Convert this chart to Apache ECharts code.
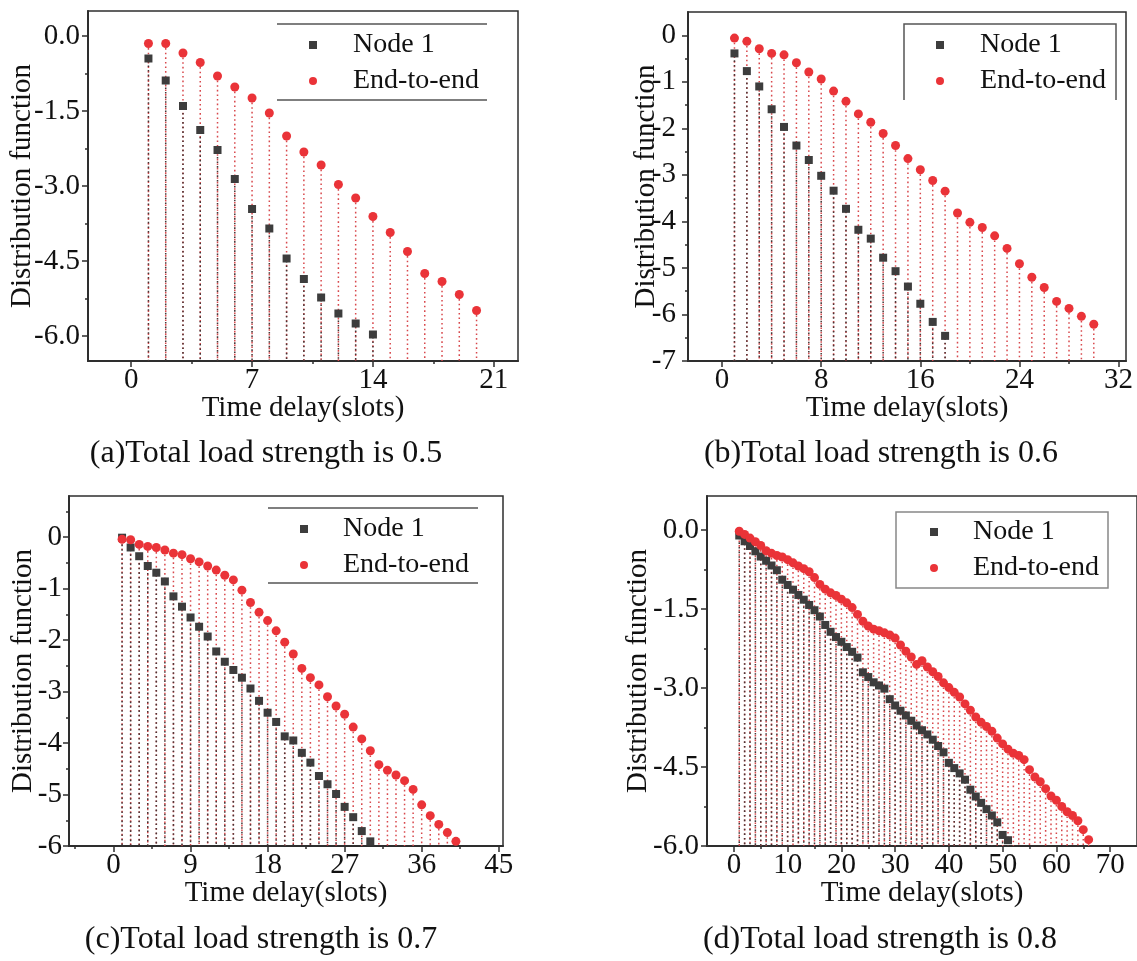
<!DOCTYPE html>
<html>
<head>
<meta charset="utf-8">
<title>Distribution function vs time delay</title>
<script src="https://cdn.jsdelivr.net/npm/echarts@6/dist/echarts.min.js"></script>
<style>
  html, body { margin: 0; padding: 0; background: #fff; }
  #chart { width: 1137px; height: 961px; }
</style>
</head>
<body>
<div id="chart"></div>
<script>
  // slot index of each point (x)
  const SLOTS = [1, 2, 3, 4, 5, 6, 7, 8, 9, 10, 11, 12, 13, 14, 15, 16, 17, 18, 19, 20,
    21, 22, 23, 24, 25, 26, 27, 28, 29, 30, 31, 32, 33, 34, 35, 36, 37, 38, 39, 40,
    41, 42, 43, 44, 45, 46, 47, 48, 49, 50, 51, 52, 53, 54, 55, 56, 57, 58, 59, 60,
    61, 62, 63, 64, 65, 66]

  // (a) load 0.5
  const NODE_A = [-0.45, -0.89, -1.40, -1.88, -2.28, -2.86, -3.46, -3.85, -4.45, -4.86, -5.23, -5.55, -5.75, -5.97]
  const E2E_A = [-0.15, -0.15, -0.34, -0.53, -0.80, -1.02, -1.24, -1.54, -2.00, -2.32, -2.58, -2.97, -3.24, -3.61,
    -3.93, -4.31, -4.75, -4.91, -5.17, -5.49]

  // (b) load 0.6
  const NODE_B = [-0.39, -0.77, -1.10, -1.59, -1.97, -2.37, -2.68, -3.02, -3.34, -3.73, -4.18, -4.37, -4.78, -5.07,
    -5.40, -5.77, -6.16, -6.46]
  const E2E_B = [-0.06, -0.13, -0.29, -0.39, -0.42, -0.59, -0.79, -0.94, -1.20, -1.42, -1.69, -1.87, -2.11, -2.37,
    -2.65, -2.89, -3.12, -3.35, -3.82, -4.02, -4.13, -4.31, -4.58, -4.91, -5.20, -5.42, -5.72, -5.87, -6.04, -6.21]

  // (c) load 0.7
  const NODE_C = [-0.01, -0.20, -0.37, -0.56, -0.69, -0.86, -1.15, -1.35, -1.56, -1.74, -1.93, -2.22, -2.42, -2.58,
    -2.73, -2.94, -3.18, -3.41, -3.59, -3.87, -3.95, -4.19, -4.38, -4.64, -4.80, -4.99, -5.24, -5.44, -5.71, -5.91]
  const E2E_C = [-0.04, -0.05, -0.14, -0.18, -0.20, -0.25, -0.31, -0.34, -0.42, -0.48, -0.56, -0.64, -0.74, -0.83,
    -1.03, -1.27, -1.46, -1.62, -1.82, -2.04, -2.27, -2.55, -2.73, -2.87, -3.10, -3.28, -3.44, -3.69, -3.92, -4.15,
    -4.42, -4.53, -4.62, -4.73, -4.90, -5.20, -5.41, -5.58, -5.74, -5.91]

  // (d) load 0.8
  const NODE_D = [-0.10, -0.21, -0.30, -0.40, -0.50, -0.58, -0.67, -0.76, -0.94, -1.04, -1.13, -1.23, -1.32, -1.42,
    -1.52, -1.64, -1.80, -1.93, -2.03, -2.12, -2.22, -2.31, -2.42, -2.70, -2.79, -2.89, -2.95, -3.01, -3.21, -3.33,
    -3.43, -3.52, -3.62, -3.71, -3.80, -3.88, -3.98, -4.10, -4.22, -4.42, -4.52, -4.62, -4.74, -4.93, -5.06, -5.18,
    -5.30, -5.42, -5.55, -5.79, -5.89]
  const E2E_D = [-0.02, -0.08, -0.15, -0.22, -0.29, -0.39, -0.44, -0.48, -0.51, -0.56, -0.62, -0.68, -0.73, -0.79,
    -0.90, -1.03, -1.12, -1.19, -1.24, -1.31, -1.38, -1.47, -1.60, -1.73, -1.82, -1.88, -1.91, -1.95, -1.99, -2.05,
    -2.18, -2.30, -2.41, -2.55, -2.48, -2.60, -2.69, -2.78, -2.90, -2.99, -3.08, -3.17, -3.30, -3.42, -3.55, -3.65,
    -3.73, -3.82, -3.95, -4.06, -4.16, -4.24, -4.28, -4.36, -4.55, -4.69, -4.78, -4.91, -5.05, -5.13, -5.25, -5.35,
    -5.42, -5.52, -5.69, -5.88]

  // tick values
  const X_TICKS_A = [0, 7, 14, 21]
  const X_MINOR_A = [3.5, 10.5, 17.5]
  const Y_TICKS_A = [0, -1.5, -3, -4.5, -6]
  const Y_MINOR_A = [-0.75, -2.25, -3.75, -5.25]
  const X_TICKS_B = [0, 8, 16, 24, 32]
  const X_MINOR_B = [4, 12, 20, 28]
  const Y_TICKS_B = [0, -1, -2, -3, -4, -5, -6, -7]
  const Y_MINOR_B = [-0.5, -1.5, -2.5, -3.5, -4.5, -5.5, -6.5]
  const X_TICKS_C = [0, 9, 18, 27, 36, 45]
  const X_MINOR_C = [-4.5, 4.5, 13.5, 22.5, 31.5, 40.5]
  const Y_TICKS_C = [0, -1, -2, -3, -4, -5, -6]
  const Y_MINOR_C = [0.5, -0.5, -1.5, -2.5, -3.5, -4.5, -5.5]
  const X_TICKS_D = [0, 10, 20, 30, 40, 50, 60, 70]
  const X_MINOR_D = [5, 15, 25, 35, 45, 55, 65]
  const Y_TICKS_D = [0, -1.5, -3, -4.5, -6]
  const Y_MINOR_D = [-0.75, -2.25, -3.75, -5.25]

  const LEGEND_NAMES = ['Node 1', 'End-to-end']
  const CAPTIONS = [
    '(a)Total load strength is 0.5',
    '(b)Total load strength is 0.6',
    '(c)Total load strength is 0.7',
    '(d)Total load strength is 0.8'
  ]

  const FONT = "'Liberation Serif', 'Times New Roman', serif"
  const TEXT = '#111'
  const AXIS = '#2e2e2e'
  const RED = '#ea3338'
  const DARK = '#3d3d3d'

  const PANELS = [
    {
      grid: {left: 88, top: 11, width: 430, height: 350},
      xRange: [-2.5, 22.4], yRange: [-6.5, 0.5],
      xTicks: X_TICKS_A, xMinor: X_MINOR_A, yTicks: Y_TICKS_A, yMinor: Y_MINOR_A,
      yDigits: 1, yNameGap: 51, yLabelMargin: 8,
      node: NODE_A, e2e: E2E_A,
      legend: {left: 309, top: 31, gap: 8, pad: 31},
      captionX: 266, captionTop: 438
    },
    {
      grid: {left: 688, top: 12, width: 438, height: 349},
      xRange: [-2.75, 32.6], yRange: [-7, 0.5],
      xTicks: X_TICKS_B, xMinor: X_MINOR_B, yTicks: Y_TICKS_B, yMinor: Y_MINOR_B,
      yDigits: 0, yNameGap: 27, yLabelMargin: 12,
      node: NODE_B, e2e: E2E_B,
      legend: {left: 936, top: 31, gap: 8, pad: 31},
      captionX: 881, captionTop: 438
    },
    {
      grid: {left: 69, top: 496, width: 434, height: 350},
      xRange: [-5.2, 45.5], yRange: [-6, 0.8],
      xTicks: X_TICKS_C, xMinor: X_MINOR_C, yTicks: Y_TICKS_C, yMinor: Y_MINOR_C,
      yDigits: 0, yNameGap: 31, yLabelMargin: 7,
      node: NODE_C, e2e: E2E_C,
      legend: {left: 300, top: 515, gap: 8, pad: 30},
      captionX: 261, captionTop: 924
    },
    {
      grid: {left: 707, top: 496, width: 435, height: 350},
      xRange: [-5, 75], yRange: [-6, 0.65],
      xTicks: X_TICKS_D, xMinor: X_MINOR_D, yTicks: Y_TICKS_D, yMinor: Y_MINOR_D,
      yDigits: 1, yNameGap: 54, yLabelMargin: 8,
      node: NODE_D, e2e: E2E_D,
      legend: {left: 930, top: 518, gap: 8, pad: 30},
      captionX: 880, captionTop: 924
    }
  ]

  function toPoints(values) {
    return values.map((v, i) => [SLOTS[i], v])
  }

  // dotted drop line from each point down to the x axis
  function dropLine(yMin, color, offset) {
    return function (params, api) {
      let top = api.coord([api.value(0), api.value(1)])
      let bottom = api.coord([api.value(0), yMin])
      return {
        type: 'line',
        shape: {x1: top[0], y1: top[1], x2: bottom[0], y2: bottom[1]},
        style: {stroke: color, lineWidth: 1.5, lineDash: [1.6, 3], lineDashOffset: offset}
      }
    }
  }

  let option = {
    animation: false,
    backgroundColor: '#fff',
    textStyle: {fontFamily: FONT},
    title: [],
    legend: [],
    grid: [],
    xAxis: [],
    yAxis: [],
    series: [],
    graphic: [
      {type: 'line', shape: {x1: 277, y1: 24, x2: 487, y2: 24}, style: {stroke: '#555', lineWidth: 1.5}},
      {type: 'line', shape: {x1: 277, y1: 100, x2: 487, y2: 100}, style: {stroke: '#555', lineWidth: 1.5}},
      {type: 'polyline', shape: {points: [[904, 100], [904, 24], [1116, 24], [1116, 100]]}, style: {stroke: '#555', lineWidth: 1.5, fill: null}},
      {type: 'line', shape: {x1: 268, y1: 508, x2: 478, y2: 508}, style: {stroke: '#555', lineWidth: 1.5}},
      {type: 'line', shape: {x1: 268, y1: 583, x2: 478, y2: 583}, style: {stroke: '#555', lineWidth: 1.5}},
      {type: 'rect', shape: {x: 896, y: 512, width: 212, height: 76}, style: {stroke: '#888', lineWidth: 1.5, fill: null}}
    ]
  }

  PANELS.forEach((p, i) => {
    let xMain = i * 2
    let yMain = i * 2
    option.grid.push(Object.assign({show: true, borderColor: AXIS, borderWidth: 1.5, backgroundColor: 'transparent'}, p.grid))

    option.xAxis.push({
      type: 'value', gridIndex: i, position: 'bottom',
      min: p.xRange[0], max: p.xRange[1],
      name: 'Time delay(slots)', nameLocation: 'middle', nameGap: 33, nameMoveOverlap: false,
      nameTextStyle: {fontFamily: FONT, fontSize: 29, color: TEXT},
      axisLine: {onZero: false, lineStyle: {color: AXIS, width: 2}},
      axisTick: {customValues: p.xTicks, length: 6, lineStyle: {color: AXIS, width: 1.5}},
      axisLabel: {customValues: p.xTicks, margin: 5, fontFamily: FONT, fontSize: 29, color: TEXT},
      splitLine: {show: false}
    }, {
      type: 'value', gridIndex: i, position: 'bottom',
      min: p.xRange[0], max: p.xRange[1],
      axisLine: {show: false, onZero: false},
      axisTick: {customValues: p.xMinor, length: 3, lineStyle: {color: AXIS, width: 1.5}},
      axisLabel: {show: false},
      splitLine: {show: false}
    })

    option.yAxis.push({
      type: 'value', gridIndex: i, position: 'left',
      min: p.yRange[0], max: p.yRange[1],
      name: 'Distribution function', nameLocation: 'middle', nameGap: p.yNameGap, nameMoveOverlap: false,
      nameTextStyle: {fontFamily: FONT, fontSize: 29, color: TEXT},
      axisLine: {show: true, onZero: false, lineStyle: {color: AXIS, width: 2}},
      axisTick: {show: true, customValues: p.yTicks, length: 6, lineStyle: {color: AXIS, width: 1.5}},
      axisLabel: {
        customValues: p.yTicks, margin: p.yLabelMargin, fontFamily: FONT, fontSize: 29, color: TEXT,
        formatter: (v) => v.toFixed(p.yDigits)
      },
      splitLine: {show: false}
    }, {
      type: 'value', gridIndex: i, position: 'left',
      min: p.yRange[0], max: p.yRange[1],
      axisLine: {show: false, onZero: false},
      axisTick: {show: true, customValues: p.yMinor, length: 3, lineStyle: {color: AXIS, width: 1.5}},
      axisLabel: {show: false},
      splitLine: {show: false}
    })

    let nodePts = toPoints(p.node)
    let e2ePts = toPoints(p.e2e)
    let axes = {xAxisIndex: xMain, yAxisIndex: yMain}

    option.series.push(
      Object.assign({
        type: 'custom', name: 'drop-e2e-' + i, silent: true, z: 1,
        renderItem: dropLine(p.yRange[0], '#d8484c', 0),
        data: e2ePts
      }, axes),
      Object.assign({
        type: 'custom', name: 'drop-node-' + i, silent: true, z: 2,
        renderItem: dropLine(p.yRange[0], '#463636', 2.3),
        data: nodePts
      }, axes),
      Object.assign({
        type: 'scatter', name: LEGEND_NAMES[0], z: 3,
        symbol: 'rect', symbolSize: 8,
        itemStyle: {color: DARK, opacity: 1},
        data: nodePts
      }, axes),
      Object.assign({
        type: 'scatter', name: LEGEND_NAMES[1], z: 4,
        symbol: 'circle', symbolSize: 9,
        itemStyle: {color: RED, opacity: 1},
        data: e2ePts
      }, axes)
    )

    option.legend.push({
      orient: 'vertical', left: p.legend.left, top: p.legend.top, padding: 0,
      itemWidth: 8, itemHeight: 8, itemGap: p.legend.gap,
      selectedMode: false,
      data: [{name: LEGEND_NAMES[0], icon: 'rect'}, {name: LEGEND_NAMES[1], icon: 'circle'}],
      textStyle: {fontFamily: FONT, fontSize: 28, lineHeight: 28, color: TEXT, padding: [0, 0, 0, p.legend.pad]}
    })

    option.title.push({
      text: CAPTIONS[i], left: p.captionX, top: p.captionTop, textAlign: 'center', padding: 0,
      textStyle: {fontFamily: FONT, fontSize: 32, fontWeight: 'normal', color: TEXT}
    })
  })

  let myChart = echarts.init(document.getElementById('chart'), null, {renderer: 'canvas'})
  myChart.setOption(option)
</script>
</body>
</html>
